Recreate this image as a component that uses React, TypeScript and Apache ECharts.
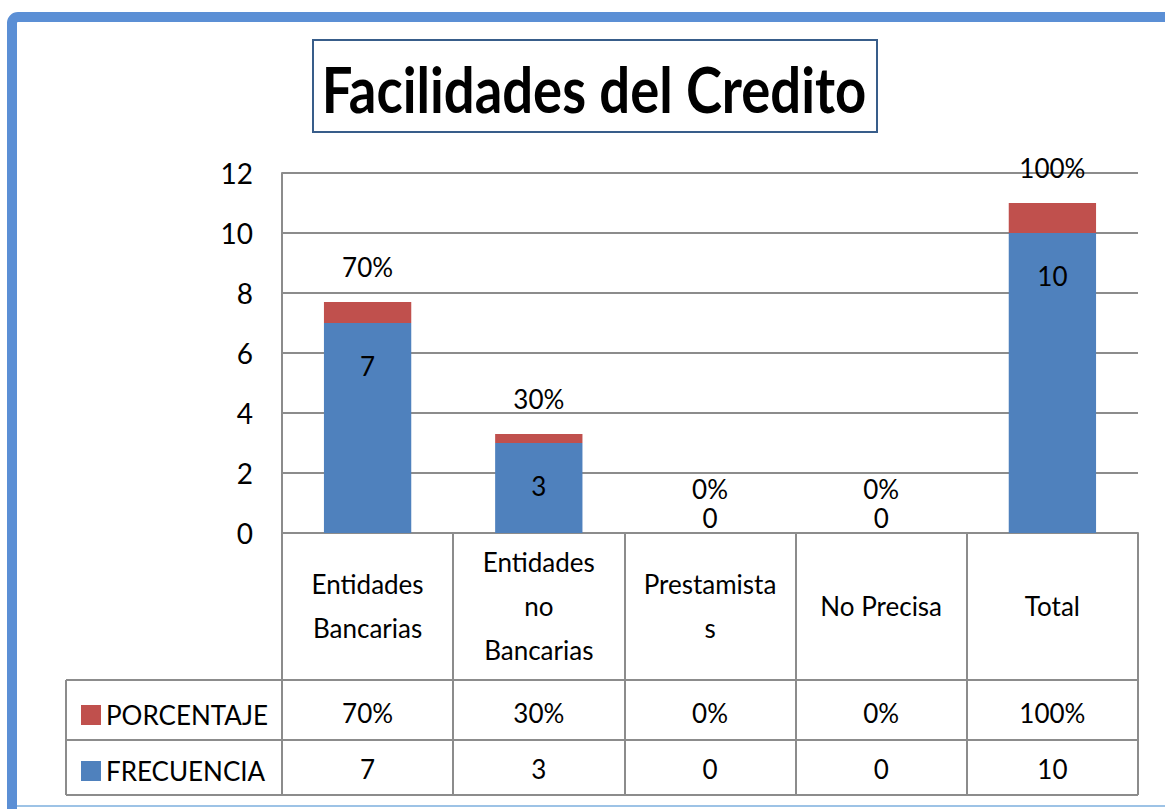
import React, { useEffect, useRef } from "react";
import * as echarts from "echarts";

const categories = ["Entidades\nBancarias", "Entidades\nno\nBancarias", "Prestamista\ns", "No Precisa", "Total"];
const frecuencia = [7, 3, 0, 0, 10];
const porcentaje = [0.7, 0.3, 0, 0, 1];
const yTicks = { min: 0, max: 12, interval: 2 };
const titleText = "Facilidades del Credito";

const BLUE = "#4F81BD";
const RED = "#C0504D";
const GRID = "#8c8c8c";
const FONT = "Lato";

const pct = (v: number) => `${Math.round(v * 100)}%`;

export default function App() {
  const ref = useRef<HTMLDivElement>(null);
  useEffect(() => {
    if (!ref.current) return;
    const chart = echarts.init(ref.current, undefined, { renderer: "svg" });
    const textBase = { fontFamily: FONT, color: "#000", fontSize: 26 };
    chart.setOption({
      animation: false,
      backgroundColor: "#fff",
      grid: { left: 282, right: 27, top: 173, bottom: 276, containLabel: false },
      legend: {
        orient: "vertical",
        left: 76,
        top: 697,
        itemWidth: 20,
        itemHeight: 20,
        itemGap: 30,
        icon: "rect",
        data: ["PORCENTAJE", "FRECUENCIA"],
        textStyle: { ...textBase, lineHeight: 26 },
      },
      xAxis: [
        {
          type: "category",
          data: categories,
          axisLine: { show: true, lineStyle: { color: GRID, width: 2 } },
          axisTick: { show: true, interval: 0, length: 262, lineStyle: { color: GRID, width: 2 } },
          axisLabel: { ...textBase, interval: 0, margin: 73, verticalAlign: "middle", lineHeight: 44 },
        },
        {
          type: "category",
          data: porcentaje.map(pct),
          position: "bottom",
          axisLine: { show: false },
          axisTick: { show: false },
          axisLabel: { ...textBase, interval: 0, margin: 180, verticalAlign: "middle" },
        },
        {
          type: "category",
          data: frecuencia.map(String),
          position: "bottom",
          axisLine: { show: false },
          axisTick: { show: false },
          axisLabel: { ...textBase, interval: 0, margin: 236, verticalAlign: "middle" },
        },
      ],
      yAxis: {
        type: "value",
        min: yTicks.min,
        max: yTicks.max,
        interval: yTicks.interval,
        axisLine: { show: true, lineStyle: { color: GRID, width: 2 } },
        axisTick: { show: false },
        splitLine: { show: true, lineStyle: { color: GRID, width: 2 } },
        axisLabel: { fontFamily: FONT, color: "#000", fontSize: 28, margin: 29 },
      },
      series: [
        {
          name: "FRECUENCIA",
          type: "bar",
          stack: "total",
          barWidth: "51%",
          itemStyle: { color: BLUE },
          data: frecuencia.map((v) =>
            v === 0
              ? { value: v, label: { position: "top", distance: 2 } }
              : { value: v }
          ),
          label: { show: true, position: "insideTop", distance: 30, ...textBase },
        },
        {
          name: "PORCENTAJE",
          type: "bar",
          stack: "total",
          barWidth: "51%",
          itemStyle: { color: RED },
          data: porcentaje.map((v) =>
            v === 0 ? { value: v, label: { distance: 31 } } : { value: v }
          ),
          label: {
            show: true,
            position: "top",
            distance: 22,
            ...textBase,
            formatter: (p: any) => pct(p.value),
          },
        },
      ],
      graphic: [
        {
          type: "rect",
          shape: { x: 12, y: 17, width: 1170, height: 810, r: 6 },
          style: { fill: "none", stroke: "#5B8FD5", lineWidth: 10 },
          silent: true,
        },
        { type: "line", shape: { x1: 17, y1: 806, x2: 1165, y2: 806 }, style: { stroke: "#9DC3E6", lineWidth: 2 } },
        {
          type: "rect",
          shape: { x: 313, y: 40, width: 564, height: 92 },
          style: { fill: "#fff", stroke: "#385D8A", lineWidth: 2 },
        },
        {
          type: "text",
          x: 594,
          y: 88,
          scaleX: 0.85,
          style: {
            text: titleText,
            fontFamily: FONT,
            fontWeight: "bold",
            fontSize: 64,
            fill: "#000",
            align: "center",
            verticalAlign: "middle",
          },
        },
        { type: "line", shape: { x1: 66, y1: 680, x2: 1138, y2: 680 }, style: { stroke: GRID, lineWidth: 2 } },
        { type: "line", shape: { x1: 66, y1: 740, x2: 1138, y2: 740 }, style: { stroke: GRID, lineWidth: 2 } },
        { type: "line", shape: { x1: 66, y1: 795, x2: 1138, y2: 795 }, style: { stroke: GRID, lineWidth: 2 } },
        { type: "line", shape: { x1: 66, y1: 680, x2: 66, y2: 795 }, style: { stroke: GRID, lineWidth: 2 } },
      ],
    });
    return () => chart.dispose();
  }, []);
  return (
    <div
      ref={ref}
      style={{ position: "absolute", left: 0, top: 0, width: 1165, height: 809 }}
    />
  );
}
